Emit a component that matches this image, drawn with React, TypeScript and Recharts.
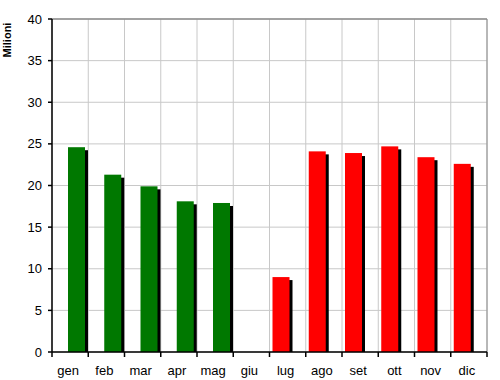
import React from "react";
import {
  BarChart,
  Bar,
  XAxis,
  YAxis,
  CartesianGrid,
  ReferenceLine,
} from "recharts";

// months (Italian) and values in millions
const MONTHS = ["gen", "feb", "mar", "apr", "mag", "giu", "lug", "ago", "set", "ott", "nov", "dic"];
const RED_VALUES = [0, 0, 0, 0, 0, 0, 9.0, 24.1, 23.9, 24.7, 23.4, 22.6];
const GREEN_VALUES = [24.6, 21.3, 19.9, 18.1, 17.9, 0, 0, 0, 0, 0, 0, 0];
const Y_TICKS = [0, 5, 10, 15, 20, 25, 30, 35, 40];

const COLORS = {
  green: "#007800",
  red: "#ff0000",
  shadow: "#000000",
  grid: "#c8c8c8",
  border: "#8c8c8c",
  axis: "#000000",
};

const FONT = "'Liberation Sans', Arial, sans-serif";

const chartData = MONTHS.map((m, i) => ({
  month: m,
  red: RED_VALUES[i],
  green: GREEN_VALUES[i],
}));

// bar with a small drop shadow, like the old Excel charts
function ShadowBar(props: any) {
  const { x, y, width, height, fill } = props;
  if (!height || height <= 0) return null;
  return (
    <g>
      {height > 3 && (
        <rect x={x + 3} y={y + 3} width={width} height={height - 3} fill={COLORS.shadow} />
      )}
      <rect x={x} y={y} width={width} height={height} fill={fill} />
    </g>
  );
}

const boundaries = ({ offset }: any) =>
  MONTHS.map((_, i) => offset.left + (i * offset.width) / MONTHS.length).concat(
    offset.left + offset.width
  );

const rightEdge = ({ offset }: any) => [offset.left + offset.width];

export default function App() {
  const W = 500;
  const H = 380;
  const band = (W - 52 - 13) / MONTHS.length;

  // month label plus tick mark at the right boundary of the category
  const MonthTick = (props: any) => {
    const { x, y, payload } = props;
    const axisY = y - 2;
    const bx = x + band / 2;
    return (
      <g>
        <line x1={bx} y1={axisY} x2={bx} y2={axisY + 5} stroke={COLORS.axis} strokeWidth={1.5} />
        {payload.index === 0 && (
          <line x1={x - band / 2} y1={axisY} x2={x - band / 2} y2={axisY + 5} stroke={COLORS.axis} strokeWidth={1.5} />
        )}
        <text x={x - 2} y={y} dy={21} textAnchor="middle" fontSize={13} fontFamily={FONT} fill="#000">
          {payload.value}
        </text>
      </g>
    );
  };

  return (
    <div style={{ position: "absolute", left: 0, top: 0, background: "#fff" }}>
      <BarChart
        width={W}
        height={H}
        data={chartData}
        margin={{ top: 19, right: 13, left: 0, bottom: 0 }}
        barSize={17}
        barGap={-4}
      >
        <CartesianGrid
          stroke={COLORS.grid}
          strokeWidth={1}
          verticalCoordinatesGenerator={boundaries}
        />
        <CartesianGrid
          stroke={COLORS.border}
          strokeWidth={1}
          horizontal={false}
          verticalCoordinatesGenerator={rightEdge}
        />
        <ReferenceLine y={40} stroke={COLORS.border} strokeWidth={1.5} />
        <XAxis
          dataKey="month"
          height={28}
          tickLine={false}
          tickSize={0}
          tickMargin={2}
          interval={0}
          axisLine={{ stroke: COLORS.axis, strokeWidth: 1.5 }}
          tick={<MonthTick />}
        />
        <YAxis
          width={52}
          domain={[0, 40]}
          ticks={Y_TICKS}
          interval={0}
          tickSize={4}
          tickMargin={6}
          tick={{ fontSize: 13, fontFamily: FONT, fill: "#000" }}
          tickLine={{ stroke: COLORS.axis, strokeWidth: 1.5 }}
          axisLine={{ stroke: COLORS.axis, strokeWidth: 1.5 }}
          label={{
            content: () => (
              <text
                x={11}
                y={40}
                transform="rotate(-90 11 40)"
                textAnchor="middle"
                fontSize={11}
                fontWeight="bold"
                fontFamily={FONT}
                fill="#000"
              >
                Milioni
              </text>
            ),
          }}
        />
        <Bar dataKey="red" fill={COLORS.red} shape={<ShadowBar />} isAnimationActive={false} />
        <Bar dataKey="green" fill={COLORS.green} shape={<ShadowBar />} isAnimationActive={false} />
      </BarChart>
    </div>
  );
}
